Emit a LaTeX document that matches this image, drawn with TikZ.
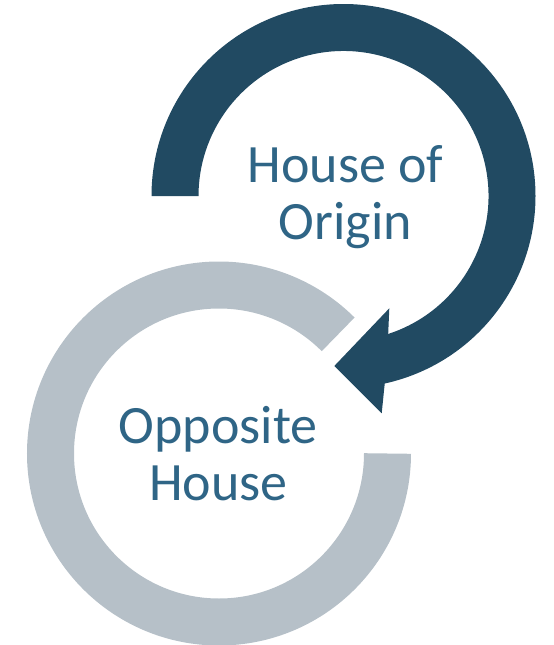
\documentclass[tikz,border=0pt]{standalone}
\usepackage{fontspec}
\setmainfont{Carlito}
\definecolor{origin_blue}{RGB}{33,74,98}
\definecolor{opposite_grey}{RGB}{182,192,200}
\definecolor{label_blue}{RGB}{47,101,134}
\begin{document}
\begin{tikzpicture}[x=1pt, y=-1pt]
    \tikzstyle{label_style}=[align=center, text=label_blue, inner sep=0pt,
      font=\fontsize{54}{57.5}\selectfont]
    \tikzstyle{ring_edge}=[line width=47pt, line cap=butt]

    \useasboundingbox (0,0) rectangle (554,645);

    % --- Opposite House (grey ring) ---
    \begin{scope}[shift={(219,453.5)}]
      \draw[ring_edge, opposite_grey] (0:168.5) arc[start angle=0, end angle=315, radius=168.5];
      \node[label_style, anchor=base] (opposite) at (-0.7,47.2) {Opposite\\House};
    \end{scope}

    % --- House of Origin (dark arrow) ---
    \begin{scope}[shift={(343.5,196)}]
      \fill[origin_blue] (180:192) arc[start angle=180, end angle=437.6, radius=192]
        -- (38.2,217.3) -- (-9.2,170) -- (45.8,112.3)
        -- (432.05:145) arc[start angle=432.05, end angle=180, radius=145] -- cycle;
      \node[label_style, anchor=base] (origin) at (2,43.5) {House of\\Origin};
    \end{scope}
  \end{tikzpicture}
\end{document}
